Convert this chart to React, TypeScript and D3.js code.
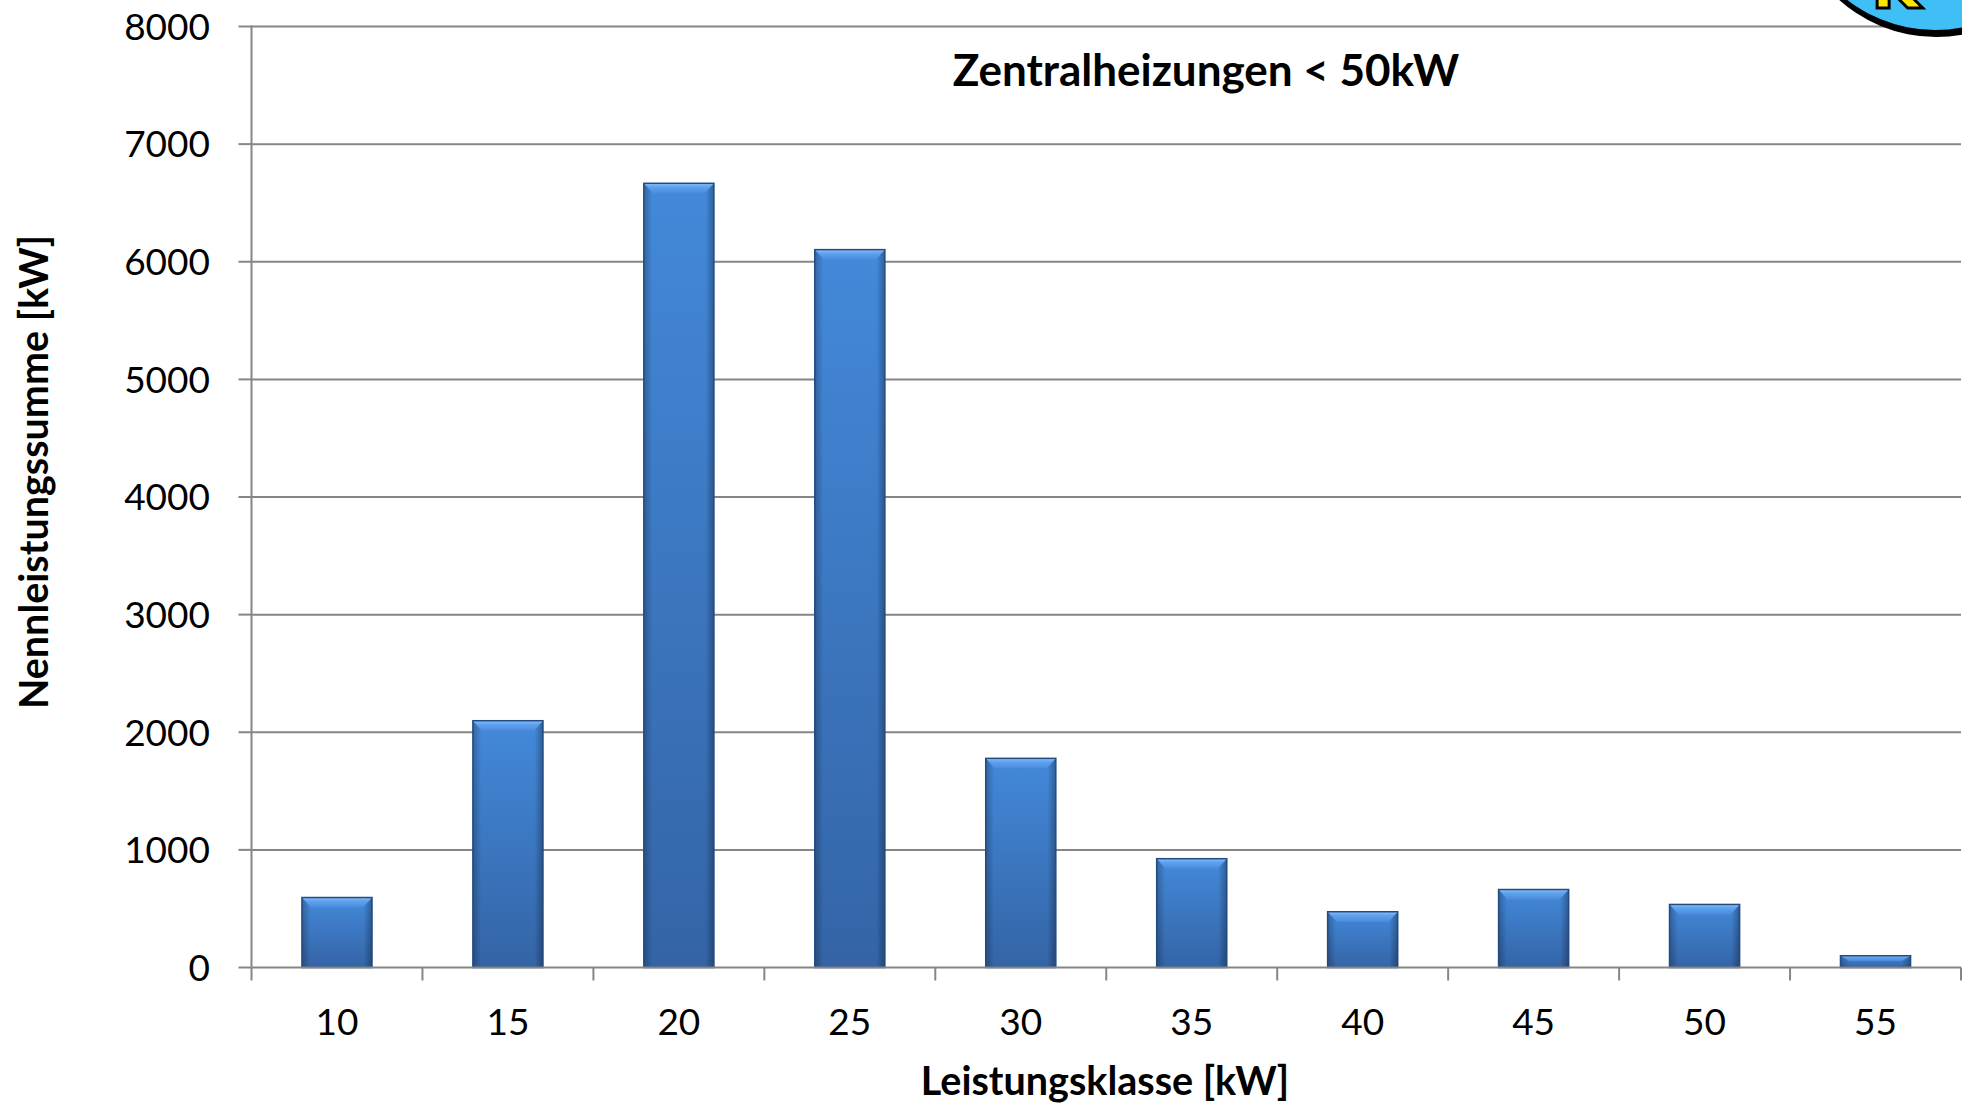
import React from "react";
import * as d3 from "d3";

const categories = ["10", "15", "20", "25", "30", "35", "40", "45", "50", "55"];
const values = [595, 2098, 6667, 6103, 1778, 925, 474, 663, 536, 100];
const yTicks = [0, 1000, 2000, 3000, 4000, 5000, 6000, 7000, 8000];
const chartTitle = "Zentralheizungen < 50kW";
const xTitle = "Leistungsklasse [kW]";
const yTitle = "Nennleistungssumme [kW]";

const W = 1962;
const H = 1105;
const left = 251.5;
const right = 1961;
const top = 26.5;
const bottom = 967.5;

export default function App() {
  const x = d3.scaleBand<string>().domain(categories).range([left, right]).paddingInner(0.59).paddingOuter(0.295);
  const xb = d3.scaleBand<string>().domain(categories).range([left, right]);
  const y = d3.scaleLinear().domain([0, 8000]).range([bottom, top]);
  const font = "Lato, 'Open Sans', sans-serif";
  const grid = "#868686";
  const bw = x.bandwidth();

  return (
    <svg width={W} height={H} style={{ position: "absolute", left: 0, top: 0, background: "#fff" }}>
      <defs>
        <linearGradient id="body" x1="0" y1="0" x2="0" y2="1">
          <stop offset="0" stopColor="#4389da" />
          <stop offset="1" stopColor="#3464a6" />
        </linearGradient>
        <linearGradient id="cap" x1="0" y1="0" x2="0" y2="1">
          <stop offset="0" stopColor="#8cc2ff" />
          <stop offset="0.35" stopColor="#5fa2ee" />
          <stop offset="1" stopColor="#4a8cdc" />
        </linearGradient>
        <linearGradient id="side" x1="0" y1="0" x2="1" y2="0">
          <stop offset="0" stopColor="#000" stopOpacity="0.25" />
          <stop offset="0.12" stopColor="#000" stopOpacity="0" />
          <stop offset="0.88" stopColor="#000" stopOpacity="0" />
          <stop offset="1" stopColor="#000" stopOpacity="0.3" />
        </linearGradient>
      </defs>

      {/* gridlines */}
      {yTicks.filter((t) => t > 0).map((t) => (
        <line key={t} x1={left} x2={right} y1={y(t)} y2={y(t)} stroke={grid} strokeWidth={2} />
      ))}

      {/* y axis */}
      <line x1={left} x2={left} y1={top - 1} y2={bottom} stroke={grid} strokeWidth={2} />
      {yTicks.map((t) => (
        <g key={t}>
          <line x1={left - 13} x2={left} y1={y(t)} y2={y(t)} stroke={grid} strokeWidth={2} />
          <text x={210} y={y(t)} dy="0.36em" textAnchor="end" fontFamily={font} fontSize={37} fill="#000">
            {t}
          </text>
        </g>
      ))}

      {/* bars */}
      {categories.map((c, i) => {
        const bx = x(c)!;
        const by = y(values[i]);
        const h = bottom - by;
        const cap = Math.min(10, h * 0.45);
        const inset = Math.min(9, bw / 2);
        return (
          <g key={c}>
            <rect x={bx} y={by} width={bw} height={h} fill="url(#body)" />
            <rect x={bx} y={by} width={bw} height={h} fill="url(#side)" />
            <polygon
              points={`${bx},${by} ${bx + bw},${by} ${bx + bw - inset},${by + cap} ${bx + inset},${by + cap}`}
              fill="url(#cap)"
            />
            <rect x={bx} y={by} width={bw} height={h} fill="none" stroke="#234b80" strokeWidth={1.5} />
          </g>
        );
      })}

      {/* x axis */}
      <line x1={left} x2={right} y1={bottom} y2={bottom} stroke={grid} strokeWidth={2} />
      {categories.map((c) => (
        <line key={"t" + c} x1={xb(c)! + xb.bandwidth()} x2={xb(c)! + xb.bandwidth()} y1={bottom} y2={bottom + 13} stroke={grid} strokeWidth={2} />
      ))}
      <line x1={left} x2={left} y1={bottom} y2={bottom + 13} stroke={grid} strokeWidth={2} />
      {categories.map((c) => (
        <text key={"l" + c} x={xb(c)! + xb.bandwidth() / 2} y={1022} dy="0.36em" textAnchor="middle" fontFamily={font} fontSize={37} fill="#000">
          {c}
        </text>
      ))}

      {/* titles */}
      <text x={1206} y={70} dy="0.36em" textAnchor="middle" fontFamily={font} fontSize={44} fontWeight="bold" fill="#000">
        {chartTitle}
      </text>
      <text x={1105} y={1081} dy="0.36em" textAnchor="middle" fontFamily={font} fontSize={39.5} fontWeight="bold" fill="#000">
        {xTitle}
      </text>
      <text transform={`translate(34,${472}) rotate(-90)`} dy="0.36em" textAnchor="middle" fontFamily={font} fontSize={39.5} fontWeight="bold" fill="#000">
        {yTitle}
      </text>

      {/* logo */}
      <circle cx={1936} cy={-108} r={145} fill="#000" />
      <circle cx={1935} cy={-113} r={143} fill="#3fbff5" />
      <text x={1896} y={8} textAnchor="middle" fontFamily="'DejaVu Sans', sans-serif" fontWeight="bold" fontSize={64} fill="#ffe600" stroke="#000" strokeWidth={3}>
        K
      </text>
    </svg>
  );
}
